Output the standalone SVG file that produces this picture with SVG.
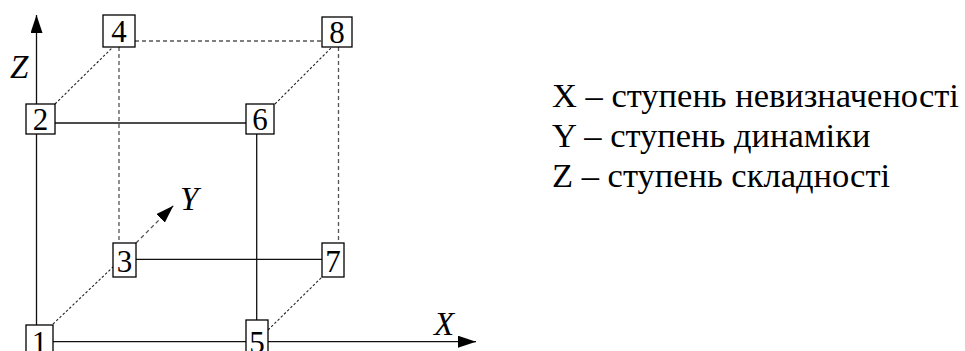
<svg xmlns="http://www.w3.org/2000/svg" width="965" height="351" viewBox="0 0 965 351">
<defs>
<style>
.box{fill:#fff;stroke:#000;stroke-width:1.3}
.num{font-family:"Liberation Serif",serif;font-size:31px;text-anchor:middle;fill:#000}
.ax{font-family:"Liberation Serif",serif;font-style:italic;font-size:33px;fill:#000}
.leg{font-family:"Liberation Serif",serif;font-size:34.5px;fill:#000}
.solid{stroke:#111;stroke-width:1.3;fill:none}
.dash{stroke:#555;stroke-width:1.3;stroke-dasharray:4 3;fill:none}
.dot{stroke:#222;stroke-width:1.1;stroke-dasharray:2.5 2;fill:none}
</style>
<marker id="arr" markerWidth="18" markerHeight="12" refX="18" refY="6" orient="auto" markerUnits="userSpaceOnUse">
<path d="M0,0 L18,6 L0,12 Z" fill="#000"/>
</marker>
</defs>
<g id="connectors">
<line class="solid" x1="36.5" y1="104" x2="36.5" y2="15" marker-end="url(#arr)"/>
<line class="solid" x1="36.5" y1="134" x2="36.5" y2="325"/>
<line class="solid" x1="53" y1="341.7" x2="246" y2="341.7"/>
<line class="solid" x1="268" y1="341.7" x2="476" y2="341.7" marker-end="url(#arr)"/>
<line class="solid" x1="55" y1="123" x2="246" y2="123"/>
<line class="solid" x1="256.7" y1="134" x2="256.7" y2="320"/>
<line class="solid" x1="136" y1="259.3" x2="322" y2="259.3"/>
<line class="dash" x1="119" y1="47" x2="119" y2="243"/>
<line class="dash" x1="338.5" y1="47" x2="338.5" y2="243"/>
<line class="dash" x1="135" y1="41" x2="322" y2="41"/>
<line class="dot" x1="55" y1="104" x2="113" y2="47"/>
<line class="dot" x1="275" y1="104" x2="332" y2="47"/>
<line class="dot" x1="53" y1="324" x2="113" y2="267"/>
<line class="dot" x1="268" y1="330" x2="322" y2="277"/>
<line class="dash" x1="136" y1="243" x2="173.3" y2="205.7" marker-end="url(#arr)"/>
</g>
<g id="axis-labels">
<text class="ax" x="10" y="78">Z</text>
<text class="ax" x="180" y="210">Y</text>
<text class="ax" x="434" y="335">X</text>
</g>
<g id="node1"><rect class="box" x="26" y="325" width="27" height="40"/><text class="num" x="39.5" y="353">1</text></g>
<g id="node2"><rect class="box" x="26" y="104" width="29" height="30"/><text class="num" x="40.5" y="130">2</text></g>
<g id="node3"><rect class="box" x="113" y="243" width="23" height="34"/><text class="num" x="124.5" y="272">3</text></g>
<g id="node4"><rect class="box" x="103" y="15" width="32" height="32"/><text class="num" x="119" y="42">4</text></g>
<g id="node5"><rect class="box" x="246" y="320" width="22" height="45"/><text class="num" x="257" y="353">5</text></g>
<g id="node6"><rect class="box" x="246" y="104" width="28" height="30"/><text class="num" x="260" y="130">6</text></g>
<g id="node7"><rect class="box" x="322" y="243" width="22" height="34"/><text class="num" x="333" y="272">7</text></g>
<g id="node8"><rect class="box" x="322" y="17" width="30" height="30"/><text class="num" x="337" y="43">8</text></g>
<g id="legend">
<text class="leg" x="552" y="107">X – ступень невизначеності</text>
<text class="leg" x="552" y="147">Y – ступень динаміки</text>
<text class="leg" x="552" y="187">Z – ступень складності</text>
</g>
</svg>
